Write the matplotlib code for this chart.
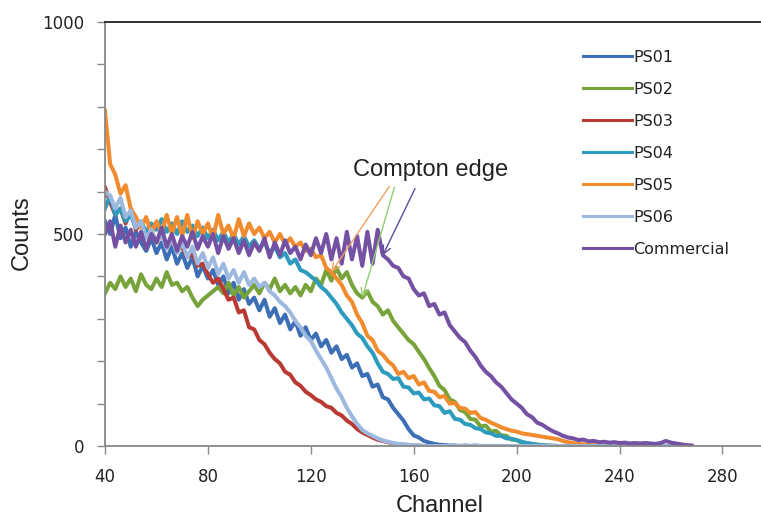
import numpy as np
import matplotlib
matplotlib.use("Agg")
import matplotlib.pyplot as plt
from matplotlib.ticker import MultipleLocator, FixedLocator

channels = list(range(40, 270, 2))

ps01 = [530, 500, 545, 490, 515, 470, 505, 480, 460, 490,
        455, 480, 440, 470, 430, 455, 420, 445, 400, 425,
        395, 415, 380, 400, 360, 385, 345, 370, 335, 350,
        320, 345, 305, 325, 290, 310, 275, 295, 260, 280,
        250, 265, 235, 250, 220, 235, 205, 215, 185, 195,
        165, 170, 140, 145, 115, 110, 90, 75, 60, 40,
        25, 20, 12, 8, 5, 3, 2, 1, 1, 0,
        1, 0, 1, 0, 0, 0, 0, 0, 0, 0,
        0, 0, 0, 0, 0, 0, 0, 0, 0, 0,
        0, 0, 0, 0, 0, 0, 0, 0, 0, 0,
        0, 0, 0, 0, 0, 0, 0, 0, 0, 0,
        0, 0, 0, 0, 0]

ps02 = [360, 385, 370, 400, 375, 395, 365, 405, 380, 370,
        395, 375, 410, 380, 385, 365, 375, 350, 330, 345,
        355, 365, 375, 360, 385, 355, 375, 350, 365, 380,
        360, 385, 370, 395, 365, 380, 360, 375, 355, 380,
        365, 395, 380, 415, 390, 420, 395, 410, 380, 360,
        350, 365, 340, 330, 310, 320, 295, 280, 265, 250,
        240, 222, 205, 184, 165, 142, 132, 110, 104, 85,
        80, 64, 62, 46, 48, 34, 36, 25, 24, 15,
        14, 8, 7, 4, 3, 2, 1, 1, 0, 0,
        0, 0, 0, 0, 0, 0, 0, 0, 0, 0,
        0, 0, 0, 0, 0, 0, 0, 0, 0, 0,
        0, 0, 0, 0, 0]

ps03 = [610, 575, 545, 560, 525, 555, 510, 525, 495, 505,
        480, 500, 470, 485, 460, 470, 445, 455, 425, 430,
        405, 385, 395, 370, 345, 350, 315, 320, 280, 275,
        250, 240, 220, 205, 195, 175, 168, 150, 142, 128,
        120, 110, 104, 94, 90, 78, 72, 60, 52, 40,
        32, 26, 20, 15, 12, 9, 6, 4, 3, 2,
        1, 1, 0, 0, 0, 0, 0, 0, 0, 0,
        0, 0, 0, 0, 0, 0, 0, 0, 0, 0,
        0, 0, 0, 0, 0, 0, 0, 0, 0, 0,
        0, 0, 0, 0, 0, 0, 0, 0, 0, 0,
        0, 0, 0, 0, 0, 0, 0, 0, 0, 0,
        0, 0, 0, 0, 0]

ps04 = [560, 590, 545, 560, 530, 545, 515, 530, 505, 525,
        510, 535, 505, 525, 500, 530, 505, 520, 495, 515,
        490, 510, 485, 505, 480, 500, 475, 495, 470, 485,
        465, 480, 455, 470, 445, 455, 430, 440, 415, 410,
        400, 390, 375, 365, 350, 335, 315, 300, 285, 265,
        255, 235, 220, 195, 175, 170, 158, 160, 140, 138,
        124, 126, 110, 112, 96, 94, 78, 82, 64, 62,
        52, 50, 42, 40, 32, 30, 24, 24, 18, 17,
        14, 10, 7, 5, 3, 2, 1, 0, 0, 0,
        0, 0, 0, 0, 0, 0, 0, 0, 0, 0,
        0, 0, 0, 0, 0, 0, 0, 0, 0, 0,
        0, 0, 0, 0, 0]

ps05 = [790, 665, 640, 595, 615, 560, 540, 515, 540, 500,
        530, 505, 545, 500, 540, 495, 545, 490, 530, 500,
        525, 490, 545, 500, 520, 490, 535, 495, 525, 500,
        515, 490, 505, 480, 500, 475, 490, 470, 480, 460,
        465, 445, 450, 420, 410, 395, 380, 355, 340, 310,
        290, 260, 250, 225, 215, 200, 190, 170, 175, 160,
        165, 145, 150, 130, 128, 115, 118, 100, 102, 90,
        88, 78, 80, 66, 62, 55, 50, 44, 40, 36,
        34, 30, 28, 26, 24, 22, 20, 18, 16, 12,
        9, 7, 5, 4, 3, 2, 1, 0, 0, 0,
        0, 0, 0, 0, 0, 0, 0, 0, 0, 0,
        0, 0, 0, 0, 0]

ps06 = [600, 590, 560, 585, 540, 555, 515, 530, 490, 510,
        480, 500, 465, 490, 455, 480, 445, 470, 430, 455,
        420, 445, 405, 430, 395, 415, 385, 410, 380, 395,
        375, 385, 365, 355, 340, 330, 315, 295, 280, 260,
        248, 225, 205, 185, 160, 135, 115, 90, 70, 52,
        38, 30, 24, 18, 13, 10, 7, 5, 4, 3,
        2, 1, 0, 0, 0, 0, 0, 0, 0, 0,
        0, 0, 0, 0, 0, 0, 0, 0, 0, 0,
        0, 0, 0, 0, 0, 0, 0, 0, 0, 0,
        0, 0, 0, 0, 0, 0, 0, 0, 0, 0,
        0, 0, 0, 0, 0, 0, 0, 0, 0, 0,
        0, 0, 0, 0, 0]

commercial = [500, 530, 470, 520, 480, 510, 470, 505, 465, 500,
              480, 515, 470, 500, 460, 495, 470, 505, 465, 495,
              470, 500, 455, 495, 465, 490, 455, 485, 450, 480,
              460, 490, 445, 480, 450, 485, 455, 470, 440, 475,
              450, 490, 455, 500, 440, 490, 430, 505, 440, 495,
              425, 505, 430, 510, 450, 440, 425, 420, 400, 395,
              370, 355, 360, 330, 335, 310, 315, 285, 270, 255,
              245, 225, 210, 190, 175, 165, 150, 140, 125, 110,
              100, 90, 75, 68, 55, 50, 42, 35, 30, 24,
              20, 18, 14, 15, 11, 12, 9, 10, 8, 9,
              7, 8, 6, 7, 6, 7, 6, 5, 7, 12,
              8, 6, 4, 2, 1]

series = [("PS01", ps01, "#3D6FB6"),
          ("PS02", ps02, "#77A33A"),
          ("PS03", ps03, "#B93A32"),
          ("PS04", ps04, "#2C9BBE"),
          ("PS05", ps05, "#F08C2E"),
          ("PS06", ps06, "#9DB9E0"),
          ("Commercial", commercial, "#7451A2")]

W, H = 761, 519
fig = plt.figure(figsize=(W / 100, H / 100), dpi=100)
ax = fig.add_axes([105 / W, (H - 446) / H, (W - 105) / W, (446 - 22) / H])

for name, vals, col in series:
    ax.plot(channels, vals, color=col, lw=2.9, label=name, solid_joinstyle="round")

ax.set_xlim(40, 295)
ax.set_ylim(0, 1000)
ax.xaxis.set_major_locator(FixedLocator([40, 80, 120, 160, 200, 240, 280]))
ax.yaxis.set_major_locator(FixedLocator([0, 500, 1000]))
ax.yaxis.set_minor_locator(MultipleLocator(100))

ax.spines["right"].set_visible(False)
ax.spines["top"].set_color("#222222")
ax.spines["top"].set_linewidth(1.3)
for s in ["left", "bottom"]:
    ax.spines[s].set_color("#888888")
    ax.spines[s].set_linewidth(1.3)

ax.tick_params(axis="both", which="both", direction="out", color="#888888", width=1)
ax.tick_params(axis="y", which="major", length=6, pad=9, labelsize=12, labelcolor="#222222")
ax.tick_params(axis="y", which="minor", length=6)
ax.tick_params(axis="x", which="major", length=6, pad=10, labelsize=12, labelcolor="#222222")

fig.text(440 / W, 1 - 506 / H, "Channel", family="Liberation Sans", fontsize=17,
         color="#222222", ha="center", va="center")
fig.text(22 / W, 1 - 233 / H, "Counts", family="Liberation Sans", fontsize=17,
         color="#222222", ha="center", va="center", rotation=90)

leg = ax.legend(loc="upper left", bbox_to_anchor=(583 / W, 1 - 50 / H),
                bbox_transform=fig.transFigure, frameon=False,
                handlelength=3.05, handletextpad=0.1, labelspacing=1.06,
                borderpad=0, borderaxespad=0, fontsize=11.5)
for t in leg.get_texts():
    t.set_color("#222222")
for l in leg.get_lines():
    l.set_linewidth(2.2)

# Compton edge annotation
ax.text(166.5, 651, "Compton edge", family="Liberation Sans", fontsize=17,
        color="#222222", ha="center", va="center")
arrows = [(128, ps05, (150.5, 612), "#F0A060"),
          (140, ps02, (152.5, 610), "#90D070"),
          (148, commercial, (160.5, 607), "#5E4A9A")]
for ch, vals, start, col in arrows:
    tip = (ch, vals[channels.index(ch)])
    ax.annotate("", xy=tip, xytext=start,
                arrowprops=dict(arrowstyle="->", color=col, lw=1.0,
                                mutation_scale=14, shrinkA=0, shrinkB=0))

fig.savefig("out.png", dpi=100)
